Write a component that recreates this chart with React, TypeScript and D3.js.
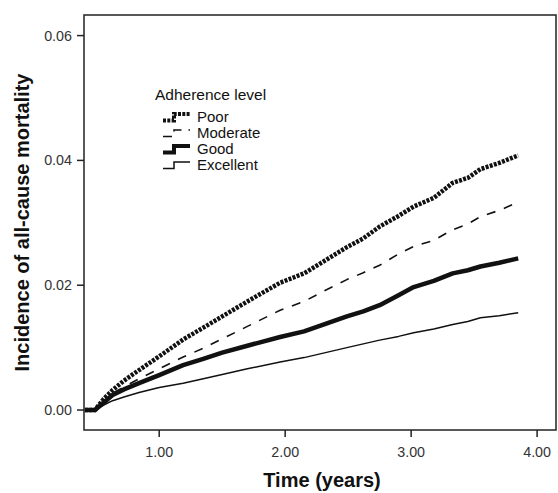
import React from "react"
import { scaleLinear, line } from "d3"

const width = 558
const height = 493

const margin = { top: 15, right: 2, bottom: 63, left: 84 }

const xTicks = [1, 2, 3, 4]
const yTicks = [0, 0.02, 0.04, 0.06]

// time (years) shared by all curves
const times = [0.41, 0.49, 0.56, 0.63, 0.72, 0.84, 1.0, 1.19, 1.35, 1.5, 1.7, 1.96, 2.15, 2.32, 2.49, 2.62, 2.75, 2.9, 3.02, 3.18, 3.33, 3.45, 3.55, 3.7, 3.85]

const poor = [0, 0, 0.0018, 0.0032, 0.0047, 0.0064, 0.0086, 0.0113, 0.0132, 0.0150, 0.0174, 0.0204, 0.0219, 0.0240, 0.0261, 0.0275, 0.0294, 0.0311, 0.0326, 0.0340, 0.0364, 0.0372, 0.0386, 0.0396, 0.0408]
const moderate = [0, 0, 0.0014, 0.0027, 0.0037, 0.0050, 0.0066, 0.0085, 0.0099, 0.0114, 0.0134, 0.0160, 0.0174, 0.0192, 0.0209, 0.0220, 0.0232, 0.0250, 0.0262, 0.0272, 0.0289, 0.0298, 0.0310, 0.0320, 0.0333]
const good = [0, 0, 0.0012, 0.0024, 0.0033, 0.0043, 0.0056, 0.0072, 0.0082, 0.0092, 0.0103, 0.0117, 0.0126, 0.0138, 0.0150, 0.0158, 0.0168, 0.0184, 0.0197, 0.0207, 0.0219, 0.0224, 0.0230, 0.0236, 0.0243]
const excellent = [0, 0, 0.0008, 0.0015, 0.0021, 0.0028, 0.0036, 0.0043, 0.0050, 0.0057, 0.0066, 0.0077, 0.0084, 0.0092, 0.0100, 0.0106, 0.0112, 0.0118, 0.0124, 0.0130, 0.0137, 0.0142, 0.0148, 0.0151, 0.0156]

const seriesNames = ["Poor", "Moderate", "Good", "Excellent"]
const seriesValues = [poor, moderate, good, excellent]

const styles = [
  { width: 4.5, dash: "3 1.3" },
  { width: 1.6, dash: "9 9" },
  { width: 4.5, dash: "none" },
  { width: 1.5, dash: "none" },
]

const font = "'Liberation Sans', Arial, sans-serif"

function App() {
  const innerWidth = width - margin.left - margin.right
  const innerHeight = height - margin.top - margin.bottom

  const xScale = scaleLinear().domain([0.403, 4.15]).range([0, innerWidth])
  const yScale = scaleLinear().domain([-0.0032, 0.0633]).range([innerHeight, 0])

  const makeLine = (vals: number[]) =>
    line<number>()
      .x((_, i) => xScale(times[i]))
      .y((d) => yScale(d))(vals) || ""

  return (
    <svg width={width} height={height} style={{ position: "absolute", left: 0, top: 0, fontFamily: font }}>
      <rect width={width} height={height} fill="white" />
      <g transform={`translate(${margin.left}, ${margin.top})`}>
        <rect width={innerWidth} height={innerHeight} fill="none" stroke="#222" strokeWidth={1.5} />
        {yTicks.map((t) => (
          <g key={t} transform={`translate(0, ${yScale(t)})`}>
            <line x1={-7} x2={0} stroke="#222" strokeWidth={1.5} />
            <text x={-12} dy="0.35em" textAnchor="end" fontSize={14.3} fill="#333">{t.toFixed(2)}</text>
          </g>
        ))}
        {xTicks.map((t) => (
          <g key={t} transform={`translate(${xScale(t)}, ${innerHeight})`}>
            <line y2={7} stroke="#222" strokeWidth={1.5} />
            <text y={21.5} dy="0.35em" textAnchor="middle" fontSize={14.3} fill="#333">{t.toFixed(2)}</text>
          </g>
        ))}
        {seriesValues.map((vals, i) => (
          <path
            key={seriesNames[i]}
            d={makeLine(vals)}
            fill="none"
            stroke="#111"
            strokeWidth={styles[i].width}
            strokeDasharray={styles[i].dash}
            strokeLinejoin="round"
          />
        ))}
      </g>
      <g transform="translate(155, 95)">
        <text dy="0.35em" fontSize={15.5} fill="#111">Adherence level</text>
        {seriesNames.map((name, i) => (
          <g key={name} transform={`translate(0, ${22 + i * 16})`}>
            <path
              d="M8,3.5 H19 V-3 H35"
              fill="none"
              stroke="#111"
              strokeWidth={Math.min(styles[i].width, 4)}
              strokeDasharray={i === 1 ? "9 7" : styles[i].dash}
            />
            <text x={42} dy="0.35em" fontSize={15} fill="#111">{name}</text>
          </g>
        ))}
      </g>
      <text
        transform={`translate(22, ${margin.top + innerHeight / 2}) rotate(-90)`}
        textAnchor="middle"
        dy="0.35em"
        fontSize={20}
        fontWeight="bold"
        fill="#111"
      >Incidence of all-cause mortality</text>
      <text x={322} y={487} textAnchor="middle" fontSize={20} fontWeight="bold" fill="#111">Time (years)</text>
    </svg>
  )
}

export default App
